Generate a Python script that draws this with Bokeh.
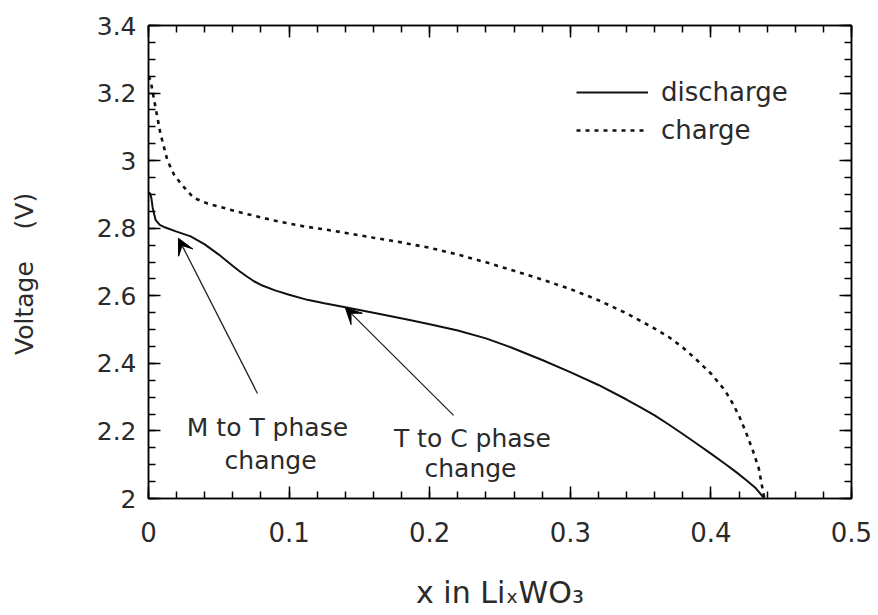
import numpy as np
from bokeh.plotting import figure
from bokeh.models import (Range1d, FixedTicker, LinearAxis, Legend, LegendItem,
                          Arrow, VeeHead, ColumnDataSource)
from bokeh.core.properties import value
from bokeh.embed import file_html
from bokeh.resources import INLINE

# ---------------- data ----------------
discharge_x = [0.0, 0.001, 0.002, 0.003, 0.005, 0.008, 0.012, 0.02, 0.03, 0.04, 0.05,
               0.06, 0.065, 0.07, 0.075, 0.08, 0.09, 0.10, 0.113, 0.125, 0.14, 0.16,
               0.184, 0.20, 0.22, 0.24, 0.258, 0.28, 0.30, 0.32, 0.34, 0.35, 0.36,
               0.37, 0.38, 0.39, 0.40, 0.41, 0.418, 0.425, 0.432, 0.438]
discharge_v = [2.90, 2.905, 2.89, 2.86, 2.825, 2.81, 2.802, 2.79, 2.776, 2.752, 2.722,
               2.688, 2.672, 2.657, 2.643, 2.632, 2.616, 2.603, 2.588, 2.578, 2.566, 2.550,
               2.530, 2.516, 2.497, 2.474, 2.447, 2.410, 2.374, 2.336, 2.293, 2.270, 2.246,
               2.219, 2.191, 2.162, 2.133, 2.103, 2.078, 2.055, 2.030, 2.0]

charge_x = [0.0, 0.0015, 0.005, 0.0085, 0.0135, 0.018, 0.023, 0.032, 0.042, 0.065, 0.089,
            0.11, 0.132, 0.16, 0.18, 0.20, 0.22, 0.24, 0.26, 0.28, 0.30, 0.32, 0.34,
            0.36, 0.37, 0.38, 0.39, 0.40, 0.41, 0.415, 0.42, 0.425, 0.43, 0.434, 0.438]
charge_v = [3.25, 3.237, 3.157, 3.08, 3.0, 2.96, 2.932, 2.89, 2.873, 2.847, 2.823,
            2.806, 2.792, 2.772, 2.758, 2.742, 2.722, 2.699, 2.674, 2.648, 2.620, 2.587, 2.548,
            2.503, 2.478, 2.447, 2.410, 2.370, 2.320, 2.285, 2.245, 2.195, 2.140, 2.090, 2.0]

x_ticks = [0.0, 0.1, 0.2, 0.3, 0.4, 0.5]
x_tick_labels = ["0", "0.1", "0.2", "0.3", "0.4", "0.5"]
y_ticks = [2.0, 2.2, 2.4, 2.6, 2.8, 3.0, 3.2, 3.4]
y_tick_labels = ["2", "2.2", "2.4", "2.6", "2.8", "3", "3.2", "3.4"]

# annotations: text and arrows (data coordinates)
note_texts = ["M to T phase", "change", "T to C phase", "change"]
note_x = [0.0846, 0.0868, 0.2304, 0.229]
note_y = [2.210, 2.113, 2.178, 2.089]

arrow_tail_x = [0.0775, 0.217]
arrow_tail_y = [2.311, 2.246]
arrow_tip_x = [0.0213, 0.140]
arrow_tip_y = [2.770, 2.565]

x_title = "x in Li\u2093WO\u2083"
y_title = "Voltage\u00a0\u00a0\u00a0\u00a0(V)\u00a0\u00a0\u00a0"

FONT = "DejaVu Sans"
TXT = "#2a2a2a"

p = figure(width=878, height=615, output_backend="svg", toolbar_location=None,
           x_range=Range1d(0, 0.5), y_range=Range1d(2.0, 3.4),
           min_border_left=148, min_border_right=27, min_border_top=25,
           min_border_bottom=117, x_axis_label=x_title, y_axis_label=y_title)
p.grid.visible = False
p.outline_line_color = "black"
p.outline_line_width = 1.5
p.background_fill_color = "white"
p.border_fill_color = "white"

x_minor = list(np.round(np.arange(0, 0.5001, 0.02), 4))
y_minor = list(np.round(np.arange(2.0, 3.4001, 0.05), 4))


def style_axis(ax, ticks, minor, labels, show_labels, size="25px"):
    ax.ticker = FixedTicker(ticks=ticks, minor_ticks=minor)
    ax.major_tick_in = 12
    ax.major_tick_out = 0
    ax.minor_tick_in = 7
    ax.minor_tick_out = 0
    ax.axis_line_width = 1.5
    ax.major_tick_line_width = 1.5
    ax.minor_tick_line_width = 1.5
    ax.axis_line_color = "black"
    ax.major_tick_line_color = "black"
    ax.minor_tick_line_color = "black"
    if show_labels:
        ax.major_label_overrides = {float(t): l for t, l in zip(ticks, labels)}
        ax.major_label_text_font = FONT
        ax.major_label_text_font_size = size
        ax.major_label_text_color = TXT
        ax.axis_label_text_font = FONT
        ax.axis_label_text_font_style = "normal"
        ax.axis_label_text_color = TXT
    else:
        ax.major_label_overrides = {float(t): "" for t in ticks}
        ax.major_label_text_font_size = "1px"
        ax.major_label_standoff = 0


xa = p.xaxis[0]
ya = p.yaxis[0]
style_axis(xa, x_ticks, x_minor, x_tick_labels, True, "26px")
style_axis(ya, y_ticks, y_minor, y_tick_labels, True, "25px")
xa.major_label_standoff = 23
xa.axis_label_text_font_size = "30px"
xa.axis_label_standoff = 30
ya.major_label_standoff = 12
ya.axis_label_text_font_size = "25px"
ya.axis_label_standoff = 55

top_ax = LinearAxis()
style_axis(top_ax, x_ticks, x_minor, x_tick_labels, False)
p.add_layout(top_ax, "above")
right_ax = LinearAxis()
style_axis(right_ax, y_ticks, y_minor, y_tick_labels, False)
p.add_layout(right_ax, "right")

r_dis = p.line(discharge_x, discharge_v, line_color="#111111", line_width=2)
r_chg = p.line(charge_x, charge_v, line_color="#111111", line_width=2.6,
               line_dash="4 5")

# annotations
src = ColumnDataSource(dict(x=note_x, y=note_y, t=note_texts))
p.text(x="x", y="y", text="t", source=src, text_font=value(FONT),
       text_font_size="25px", text_color=TXT, text_align="center",
       text_baseline="middle")

for xs, ys, xe, ye in zip(arrow_tail_x, arrow_tail_y, arrow_tip_x, arrow_tip_y):
    p.add_layout(Arrow(end=VeeHead(size=16, fill_color="black", line_color="black",
                                   line_width=1),
                       x_start=xs, y_start=ys, x_end=xe, y_end=ye,
                       line_color="#222222", line_width=1.3))

legend = Legend(items=[LegendItem(label="discharge", renderers=[r_dis]),
                       LegendItem(label="charge", renderers=[r_chg])],
                location=(428, 353), glyph_width=72, glyph_height=30,
                label_height=30, spacing=8, padding=0, margin=0,
                label_standoff=13, border_line_color=None,
                background_fill_alpha=0, label_text_font=FONT,
                label_text_font_size="26px", label_text_color=TXT)
p.add_layout(legend)

open("out.html", "w").write(file_html(p, INLINE))
